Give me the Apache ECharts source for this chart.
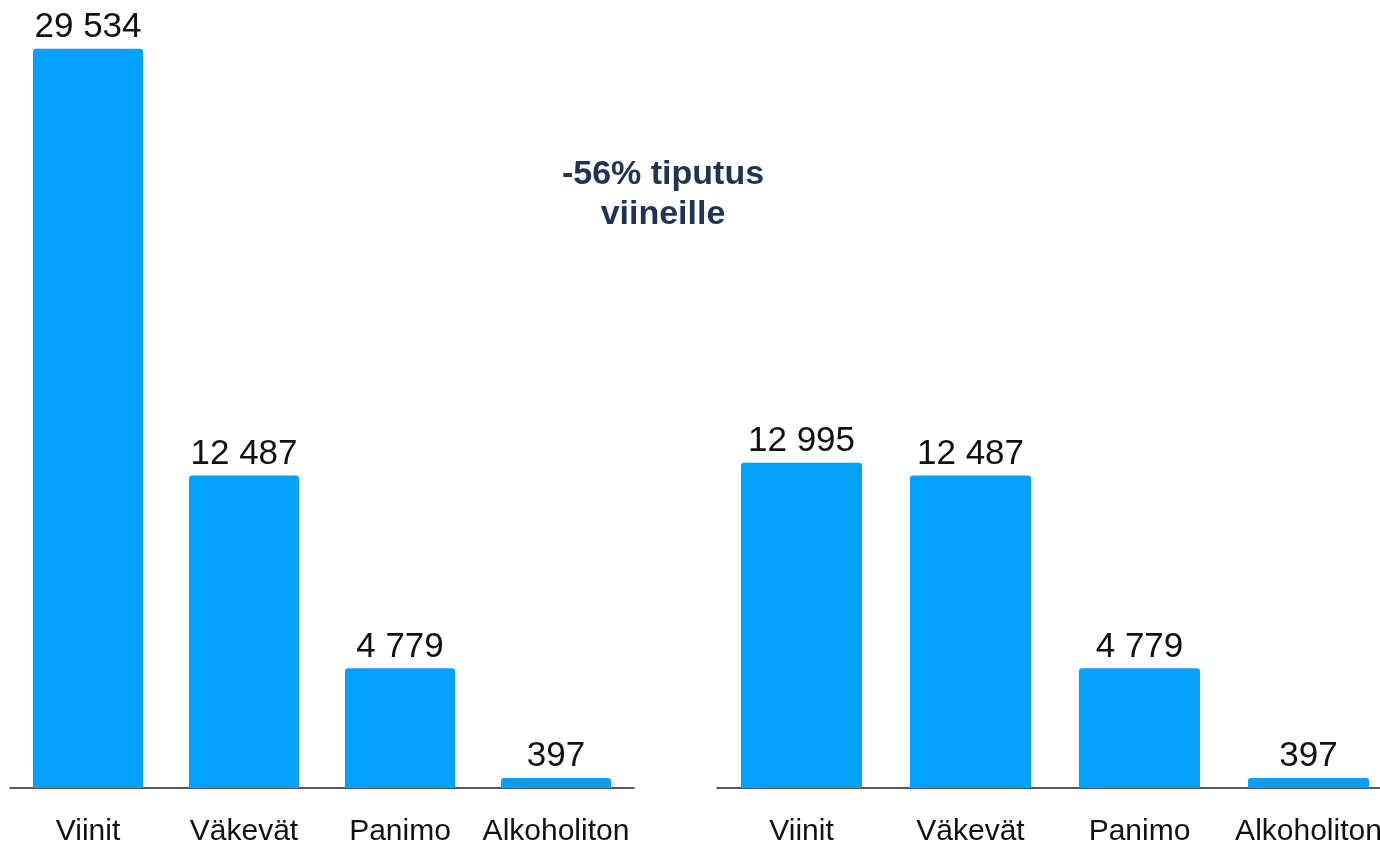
<!DOCTYPE html>
<html>
<head>
<meta charset="utf-8">
<script src="https://cdn.jsdelivr.net/npm/echarts@6/dist/echarts.min.js"></script>
<style>
  html, body { margin: 0; padding: 0; background: #fff; overflow: hidden; }
  /* a bit wider than the window: the right chart runs off the edge like the source */
  #chart { width: 1400px; height: 842px; }
</style>
</head>
<body>
<div id="chart"></div>
<script>
const categories = ['Viinit', 'Väkevät', 'Panimo', 'Alkoholiton']
const valuesBefore = [29534, 12487, 4779, 397]
const valuesAfter = [12995, 12487, 4779, 397]
const titleLines = ['-56% tiputus', 'viineille']

const barColor = '#02a1fd'
const font = 'Liberation Sans'

// thousands with a space, like the source
const fmt = (v) => String(v).replace(/\B(?=(\d{3})+(?!\d))/g, ' ')

const chart = echarts.init(document.getElementById('chart'))

const xAxisBase = {
  type: 'category',
  data: categories,
  axisTick: { show: false },
  axisLine: { lineStyle: { color: '#222', width: 1.5 } },
  axisLabel: { interval: 0, color: '#111', fontFamily: font, fontSize: 30, margin: 29 }
}

const yAxisBase = {
  type: 'value',
  min: 0,
  max: 30000,
  show: false,
  splitLine: { show: false }
}

const seriesBase = {
  type: 'bar',
  itemStyle: { color: barColor, borderRadius: [3, 3, 0, 0] },
  label: {
    show: true,
    position: 'top',
    distance: 4,
    color: '#111',
    fontFamily: font,
    fontSize: 35,
    formatter: (p) => fmt(p.value)
  }
}

const gridBase = { top: 37, bottom: 54, containLabel: false, outerBoundsMode: 'none' }

const option = {
  animation: false,
  title: {
    text: titleLines.join('\n'),
    left: 658,
    top: 150,
    textAlign: 'center',
    textStyle: {
      color: '#1e3356',
      fontFamily: font,
      fontWeight: 'bold',
      fontSize: 34,
      lineHeight: 40
    }
  },
  grid: [
    Object.assign({ left: 10, width: 624 }, gridBase),
    Object.assign({ left: 717, width: 676 }, gridBase)
  ],
  xAxis: [
    Object.assign({ gridIndex: 0 }, xAxisBase),
    Object.assign({ gridIndex: 1 }, xAxisBase)
  ],
  yAxis: [
    Object.assign({ gridIndex: 0 }, yAxisBase),
    Object.assign({ gridIndex: 1 }, yAxisBase)
  ],
  series: [
    Object.assign({ xAxisIndex: 0, yAxisIndex: 0, barWidth: 110, data: valuesBefore }, seriesBase),
    Object.assign({ xAxisIndex: 1, yAxisIndex: 1, barWidth: 121, data: valuesAfter }, seriesBase)
  ]
}

chart.setOption(option)
</script>
</body>
</html>
